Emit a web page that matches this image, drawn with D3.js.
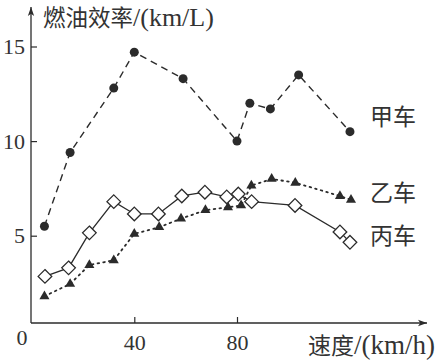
<!DOCTYPE html>
<html>
<head>
<meta charset="utf-8">
<script src="https://cdn.jsdelivr.net/npm/d3@7/dist/d3.min.js"></script>
<style>
  html, body { margin: 0; padding: 0; background: #fff; }
  svg { display: block; }
</style>
</head>
<body>
<svg id="chart" width="445" height="361"></svg>
<script>
// ---- data ----
const jiaSpeed = [5, 15, 32, 40, 59, 80, 85, 93, 104, 124];
const jiaValue = [5.5, 9.4, 12.8, 14.7, 13.3, 10.0, 12.0, 11.7, 13.5, 10.5];

const yiSpeed = [5, 15, 22.5, 32, 40, 49.7, 58.2, 67.7, 76.5, 81.6, 85.6, 93.5, 102.7, 120.1, 124.4];
const yiValue = [1.8, 2.45, 3.45, 3.7, 5.1, 5.45, 5.9, 6.35, 6.5, 6.6, 7.65, 8.0, 7.8, 7.1, 6.9];

const bingSpeed = [5.2, 14.4, 22.5, 32, 40, 49.4, 58.5, 67.5, 76, 80.5, 85.7, 102.6, 120.1, 124];
const bingValue = [2.85, 3.3, 5.15, 6.8, 6.15, 6.15, 7.1, 7.3, 7.05, 7.2, 6.8, 6.6, 5.2, 4.65];

const yTicks = [5, 10, 15];
const xTicks = [40, 80];
const seriesNames = ["甲车", "乙车", "丙车"];
const yTitle = ["燃油效率", "/(km/L)"];
const xTitle = ["速度", "/(km/h)"];

// ---- layout ----
const ink = "#2b2b2b";
const textInk = "#333";
const cjk = "'Noto Sans CJK SC', 'Noto Sans', sans-serif";
const serif = "'Liberation Serif', 'DejaVu Serif', serif";

const originX = 31, originY = 323;
const x = d3.scaleLinear().domain([0, 150]).range([31.6, 31.6 + 150 * 2.5675]);
const y = d3.scaleLinear().domain([0, 15]).range([330.3, 46.5]);

const svg = d3.select("#chart");

// axes lines with arrows
svg.append("defs").append("marker")
  .attr("id", "arrow").attr("viewBox", "0 0 10 10")
  .attr("refX", 10).attr("refY", 5)
  .attr("markerWidth", 9).attr("markerHeight", 9)
  .attr("markerUnits", "userSpaceOnUse")
  .attr("orient", "auto")
  .append("path").attr("d", "M0,1.5 L10,5 L0,8.5 L2.5,5 Z").attr("fill", ink);

svg.append("line")
  .attr("x1", originX).attr("y1", originY).attr("x2", originX).attr("y2", 7)
  .attr("stroke", ink).attr("stroke-width", 1.3).attr("marker-end", "url(#arrow)");
svg.append("line")
  .attr("x1", originX).attr("y1", originY).attr("x2", 427).attr("y2", originY)
  .attr("stroke", ink).attr("stroke-width", 1.3).attr("marker-end", "url(#arrow)");

// y axis ticks
const yAxis = d3.axisLeft(y).tickValues(yTicks).tickSize(-6).tickPadding(6).tickFormat(d3.format("d"));
const gy = svg.append("g").attr("transform", `translate(${originX},0)`).call(yAxis);
gy.select(".domain").remove();
gy.selectAll("line").attr("stroke", ink).attr("stroke-width", 1.2);
gy.selectAll("text").attr("font-family", serif).attr("font-size", 22).attr("fill", textInk);

// x axis ticks
const xAxis = d3.axisBottom(x).tickValues(xTicks).tickSize(-6).tickPadding(11).tickFormat(d3.format("d"));
const gx = svg.append("g").attr("transform", `translate(0,${originY})`).call(xAxis);
gx.select(".domain").remove();
gx.selectAll("line").attr("stroke", ink).attr("stroke-width", 1.2);
gx.selectAll("text").attr("font-family", serif).attr("font-size", 22).attr("fill", textInk);

// origin label
svg.append("text").attr("x", 22).attr("y", 345).attr("text-anchor", "middle")
  .attr("font-family", serif).attr("font-size", 22).attr("fill", textInk).text("0");

// titles
function title(parts, xPos, yPos, cjkSize, latinSize) {
  const t = svg.append("text").attr("x", xPos).attr("y", yPos).attr("fill", textInk);
  t.append("tspan").attr("font-family", cjk).attr("font-size", cjkSize).text(parts[0]);
  t.append("tspan").attr("font-family", serif).attr("font-size", latinSize).text(parts[1]);
}
title(yTitle, 43, 26, 22.5, 26);
title(xTitle, 308, 354, 23, 27);

// series
const line = d3.line().x(d => x(d[0])).y(d => y(d[1]));
const jia = jiaSpeed.map((s, i) => [s, jiaValue[i]]);
const yi = yiSpeed.map((s, i) => [s, yiValue[i]]);
const bing = bingSpeed.map((s, i) => [s, bingValue[i]]);

svg.append("path").datum(jia).attr("d", line).attr("fill", "none")
  .attr("stroke", ink).attr("stroke-width", 1.4).attr("stroke-dasharray", "7,5");
svg.append("path").datum(yi).attr("d", line).attr("fill", "none")
  .attr("stroke", ink).attr("stroke-width", 1.8).attr("stroke-dasharray", "1.6,4.2").attr("stroke-linecap", "round");
svg.append("path").datum(bing).attr("d", line).attr("fill", "none")
  .attr("stroke", ink).attr("stroke-width", 1.3);

svg.append("g").selectAll("circle").data(jia).join("circle")
  .attr("cx", d => x(d[0])).attr("cy", d => y(d[1])).attr("r", 4.5).attr("fill", ink);

const tri = d3.symbol().type(d3.symbolTriangle).size(44);
svg.append("g").selectAll("path").data(yi).join("path")
  .attr("transform", d => `translate(${x(d[0])},${y(d[1])})`)
  .attr("d", tri).attr("fill", ink);

const dia = 6.8;
svg.append("g").selectAll("path").data(bing).join("path")
  .attr("transform", d => `translate(${x(d[0])},${y(d[1])})`)
  .attr("d", `M0,${-dia} L${dia},0 L0,${dia} L${-dia},0 Z`)
  .attr("fill", "#fff").attr("stroke", ink).attr("stroke-width", 1.3);

// series labels
const labelY = [125, 200.5, 243.5];
svg.append("g").selectAll("text").data(seriesNames).join("text")
  .attr("x", 370).attr("y", (d, i) => labelY[i])
  .attr("font-family", cjk).attr("font-size", 23).attr("fill", textInk)
  .text(d => d);
</script>
</body>
</html>
